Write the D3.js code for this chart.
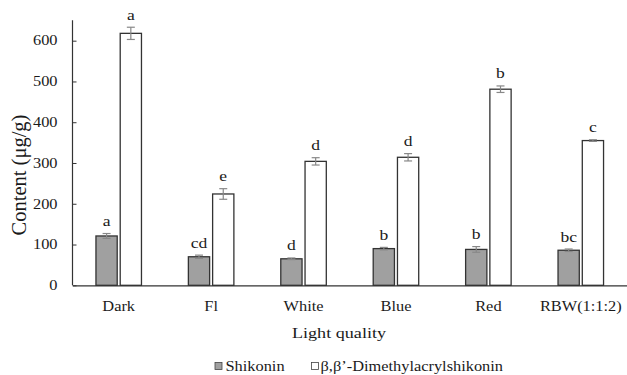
<!DOCTYPE html>
<html><head><meta charset="utf-8">
<script src="https://cdn.jsdelivr.net/npm/d3@7"></script>
<style>body{margin:0;background:#fff}</style>
</head><body>
<svg id="c" width="627" height="375"></svg>
<script>
const categories = ["Dark", "Fl", "White", "Blue", "Red", "RBW(1:1:2)"];
const shikonin = [121, 70, 65, 90, 88, 86];
const shikoninErr = [6, 4, 2, 3, 7, 3];
const shikoninLetters = ["a", "cd", "d", "b", "b", "bc"];
const dmas = [618, 224, 304, 314, 481, 355];
const dmasErr = [15, 13, 9, 9, 8, 2];
const dmasLetters = ["a", "e", "d", "d", "b", "c"];
const yTicks = [0, 100, 200, 300, 400, 500, 600];
const seriesNames = ["Shikonin", "β,β’-Dimethylacrylshikonin"];

const svg = d3.select("#c");
const font = "Liberation Serif, Times New Roman, DejaVu Serif, serif";
const SX = 1.17;
const mLeft = 72.5, mRight = 627, mTop = 20.3, mBottom = 285.3;

function txt(x, y, s, size, anchor) {
  return svg.append("text")
    .attr("transform", `translate(${x},${y}) scale(${SX},1)`)
    .attr("text-anchor", anchor || "start")
    .style("font-family", font).style("font-size", size + "px")
    .attr("fill", "#1a1a1a").text(s);
}

const x = d3.scaleBand().domain(categories).range([mLeft, mRight]).padding(0);
const y = d3.scaleLinear().domain([0, 650]).range([mBottom, mTop]);
const bw = x.bandwidth() * 0.23;
const gap = 3;

const series = [
  {vals: shikonin, err: shikoninErr, letters: shikoninLetters, fill: "#a0a0a0", off: -gap/2 - bw},
  {vals: dmas, err: dmasErr, letters: dmasLetters, fill: "#ffffff", off: gap/2}
];

series.forEach(s => {
  const g = svg.append("g");
  categories.forEach((c, i) => {
    const cx = x(c) + x.bandwidth()/2 + s.off;
    g.append("rect").attr("x", cx).attr("y", y(s.vals[i]))
      .attr("width", bw).attr("height", y(0) - y(s.vals[i]))
      .attr("fill", s.fill).attr("stroke", "#333").attr("stroke-width", 1.3);
    const mx = cx + bw/2;
    const hi = y(s.vals[i] + s.err[i]), lo = y(s.vals[i] - s.err[i]);
    g.append("line").attr("x1", mx).attr("x2", mx).attr("y1", hi).attr("y2", lo)
      .attr("stroke", "#888").attr("stroke-width", 1.2);
    [hi, lo].forEach(v => g.append("line").attr("x1", mx - 4).attr("x2", mx + 4)
      .attr("y1", v).attr("y2", v).attr("stroke", "#888").attr("stroke-width", 1.2));
    txt(mx, hi - 7.5, s.letters[i], 15, "middle");
  });
});

// y axis
const yAxis = d3.axisRight(y).tickValues(yTicks).tickSize(4).tickFormat("");
const ya = svg.append("g").attr("transform", `translate(${mLeft},0)`).call(yAxis);
ya.select(".domain").remove();
ya.selectAll(".tick line").attr("stroke", "#333");
svg.append("line").attr("x1", mLeft).attr("x2", mLeft).attr("y1", mTop).attr("y2", mBottom)
  .attr("stroke", "#333").attr("stroke-width", 1.2);
yTicks.forEach(t => txt(57.5, y(t) + 4.8, t, 14, "end"));

// x axis
const xAxis = d3.axisBottom(x).tickSize(0).tickFormat("");
const xa = svg.append("g").attr("transform", `translate(0,${mBottom})`).call(xAxis);
xa.select(".domain").attr("stroke", "#333").attr("stroke-width", 1.3);
categories.forEach(c => txt(x(c) + x.bandwidth()/2, 310.5, c, 14, "middle"));

// axis titles
txt(339, 338, "Light quality", 15.5, "middle");
svg.append("text").attr("transform", "translate(26,175) rotate(-90)")
  .attr("text-anchor", "middle").style("font-family", font).style("font-size", "20.5px")
  .attr("fill", "#1a1a1a").text("Content (μg/g)");

// legend
const legItems = [{x: 215, tx: 225.5, fill: "#a0a0a0"}, {x: 311.5, tx: 320.5, fill: "#ffffff"}];
legItems.forEach((l, i) => {
  svg.append("rect").attr("x", l.x).attr("y", 362.5).attr("width", 7).attr("height", 7)
    .attr("fill", l.fill).attr("stroke", "#444").attr("stroke-width", 0.8);
  txt(l.tx, 370.7, seriesNames[i], 14, "start");
});
</script>
</body></html>
